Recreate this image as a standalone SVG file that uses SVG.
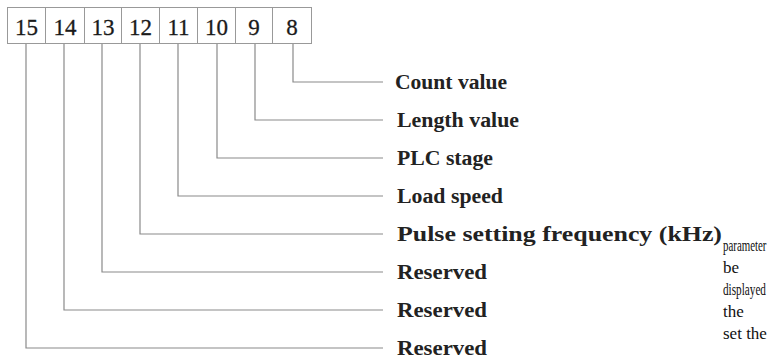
<svg xmlns="http://www.w3.org/2000/svg" width="767" height="359" viewBox="0 0 767 359">
<style>
.cell{fill:#fff;stroke:#999;stroke-width:1}
.digit{font-family:"Liberation Serif",serif;font-size:23px;fill:#1a1a1a;stroke:#1a1a1a;stroke-width:0.3;text-anchor:middle}
.lbl{font-family:"Liberation Serif",serif;font-size:20px;font-weight:bold;fill:#222}
.side{font-family:"Liberation Serif",serif;font-size:17px;fill:#111}
.conn{fill:none;stroke:#8a8a8a;stroke-width:1.2}
</style>
<rect width="767" height="359" fill="#fff"/>
<g id="register">
<g id="bit15"><rect class="cell" x="7.5" y="7.5" width="38" height="36"/><text class="digit" x="26.5" y="35">15</text></g>
<g id="bit14"><rect class="cell" x="45.5" y="7.5" width="39" height="36"/><text class="digit" x="65" y="35">14</text></g>
<g id="bit13"><rect class="cell" x="84.5" y="7.5" width="37" height="36"/><text class="digit" x="103" y="35">13</text></g>
<g id="bit12"><rect class="cell" x="121.5" y="7.5" width="38" height="36"/><text class="digit" x="140.5" y="35">12</text></g>
<g id="bit11"><rect class="cell" x="159.5" y="7.5" width="38" height="36"/><text class="digit" x="178.5" y="35">11</text></g>
<g id="bit10"><rect class="cell" x="197.5" y="7.5" width="38" height="36"/><text class="digit" x="216.5" y="35">10</text></g>
<g id="bit9"><rect class="cell" x="235.5" y="7.5" width="37" height="36"/><text class="digit" x="254" y="35">9</text></g>
<g id="bit8"><rect class="cell" x="272.5" y="7.5" width="39" height="36"/><text class="digit" x="292" y="35">8</text></g>
</g>
<g id="connectors">
<path class="conn" d="M293 44 V82 H383"/>
<path class="conn" d="M255 44 V120 H383"/>
<path class="conn" d="M217 44 V158 H383"/>
<path class="conn" d="M178 44 V196 H383"/>
<path class="conn" d="M140 44 V234 H383"/>
<path class="conn" d="M102 44 V272 H383"/>
<path class="conn" d="M64 44 V310 H383"/>
<path class="conn" d="M26 44 V348 H383"/>
</g>
<g id="labels">
<text class="lbl" x="395" y="89" textLength="112" lengthAdjust="spacingAndGlyphs">Count value</text>
<text class="lbl" x="397" y="127" textLength="122" lengthAdjust="spacingAndGlyphs">Length value</text>
<text class="lbl" x="397" y="165" textLength="96" lengthAdjust="spacingAndGlyphs">PLC stage</text>
<text class="lbl" x="397" y="203" textLength="106" lengthAdjust="spacingAndGlyphs">Load speed</text>
<text class="lbl" x="397" y="241" textLength="325" lengthAdjust="spacingAndGlyphs">Pulse setting frequency (kHz)</text>
<text class="lbl" x="397" y="279" textLength="90" lengthAdjust="spacingAndGlyphs">Reserved</text>
<text class="lbl" x="397" y="317" textLength="90" lengthAdjust="spacingAndGlyphs">Reserved</text>
<text class="lbl" x="397" y="355" textLength="90" lengthAdjust="spacingAndGlyphs">Reserved</text>
</g>
<g id="side-text">
<text class="side" transform="translate(723 251) scale(0.64 1)">parameter</text>
<text class="side" x="723" y="273">be</text>
<text class="side" transform="translate(723 295) scale(0.66 1)">displayed</text>
<text class="side" x="723" y="317">the</text>
<text class="side" x="723" y="339">set the</text>
</g>
</svg>
